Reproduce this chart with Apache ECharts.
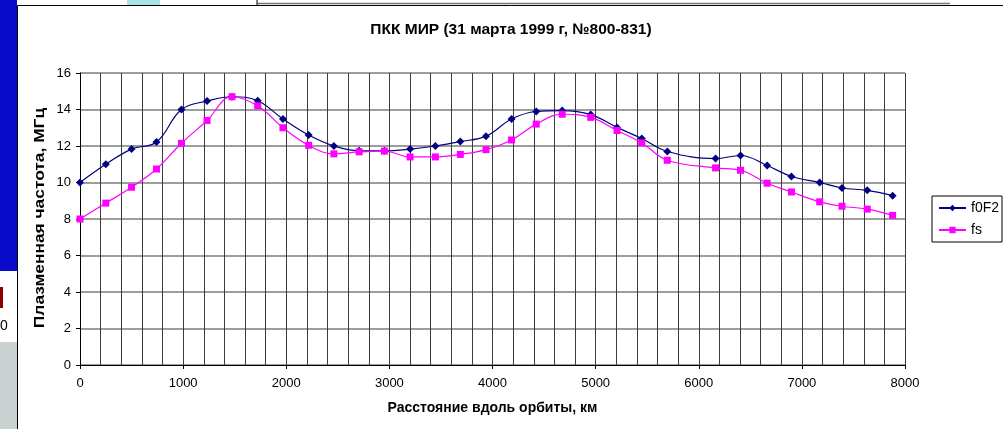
<!DOCTYPE html>
<html>
<head>
<meta charset="utf-8">
<script src="https://cdn.jsdelivr.net/npm/echarts@6/dist/echarts.min.js"></script>
<style>
  html, body { margin: 0; padding: 0; background: #ffffff; }
  #chart { width: 1003px; height: 429px; }
</style>
</head>
<body>
<div id="chart"></div>
<script>
// Distance along the orbit, km (sessions №800-831)
const distanceKm = [0, 250, 500, 742, 984, 1232, 1474, 1723, 1968, 2217, 2462, 2707, 2952, 3201, 3446, 3688,
                    3937, 4185, 4424, 4676, 4953, 5208, 5447, 5695, 6163, 6405, 6663, 6899, 7173, 7389, 7634, 7880];
// Critical frequency of the F2 layer, MHz
const f0F2 = [10.0, 11.0, 11.83, 12.22, 14.0, 14.46, 14.7, 14.48, 13.48, 12.6, 12.0, 11.74, 11.74, 11.83, 12.0, 12.24,
              12.54, 13.48, 13.89, 13.94, 13.72, 13.02, 12.41, 11.7, 11.31, 11.48, 10.93, 10.33, 10.0, 9.7, 9.57, 9.28];
// Local plasma frequency at the station, MHz
const fs = [8.0, 8.87, 9.74, 10.74, 12.15, 13.4, 14.7, 14.2, 13.0, 12.04, 11.57, 11.68, 11.72, 11.4, 11.4, 11.54,
            11.8, 12.33, 13.2, 13.74, 13.57, 12.85, 12.17, 11.22, 10.8, 10.67, 9.96, 9.48, 8.94, 8.7, 8.54, 8.2];

const seriesNames = ['f0F2', 'fs'];
const titleText = 'ПКК МИР (31 марта 1999 г, №800-831)';
const xTitle = 'Расстояние вдоль орбиты, км';
const yTitle = 'Плазменная частота, МГц';

const FONT = '"Liberation Sans", Arial, sans-serif';
const pairs = ys => distanceKm.map((x, i) => [x, ys[i]]);

const chart = echarts.init(document.getElementById('chart'), null, { renderer: 'canvas' });

chart.setOption({
  animation: false,
  backgroundColor: '#ffffff',
  textStyle: { fontFamily: FONT, color: '#000' },
  grid: { left: 80, right: 98, top: 73, bottom: 64, containLabel: false },
  legend: {
    orient: 'vertical',
    left: 932,
    top: 196,
    data: seriesNames,
    borderColor: '#000',
    borderWidth: 1,
    borderRadius: 0,
    padding: [5, 3, 5, 6],
    itemWidth: 27,
    itemHeight: 8,
    itemGap: 8,
    textStyle: { fontFamily: FONT, fontSize: 14, color: '#000' }
  },
  xAxis: {
    type: 'value',
    min: 0,
    max: 8000,
    interval: 1000,
    name: xTitle,
    nameLocation: 'middle',
    nameGap: 36,
    nameTextStyle: { fontFamily: FONT, fontSize: 14, fontWeight: 'bold', color: '#000' },
    axisLine: { show: true, onZero: false, lineStyle: { color: '#000', width: 1 } },
    axisTick: { show: true, inside: false, length: 4, lineStyle: { color: '#000' } },
    axisLabel: { fontFamily: FONT, fontSize: 13, color: '#000', margin: 12, formatter: v => String(v) },
    splitLine: { show: true, lineStyle: { color: '#3c3c3c', width: 1 } },
    minorTick: { show: false, splitNumber: 5 },
    minorSplitLine: { show: true, lineStyle: { color: '#3c3c3c', width: 1 } }
  },
  yAxis: {
    type: 'value',
    min: 0,
    max: 16,
    interval: 2,
    axisLine: { show: true, lineStyle: { color: '#000', width: 1 } },
    axisTick: { show: true, inside: false, length: 4, lineStyle: { color: '#000' } },
    axisLabel: { fontFamily: FONT, fontSize: 13, color: '#000', margin: 9 },
    splitLine: { show: true, lineStyle: { color: '#7d7d7d', width: 1.6 } }
  },
  series: [
    {
      name: seriesNames[0],
      type: 'line',
      data: pairs(f0F2),
      smooth: 0.4,
      symbol: 'diamond',
      symbolSize: 8,
      showSymbol: true,
      color: '#000080',
      lineStyle: { color: '#000080', width: 1.2 },
      itemStyle: { color: '#000080' },
      z: 3
    },
    {
      name: seriesNames[1],
      type: 'line',
      data: pairs(fs),
      smooth: 0.4,
      symbol: 'rect',
      symbolSize: 7,
      showSymbol: true,
      color: '#ff00ff',
      lineStyle: { color: '#ff00ff', width: 1.2 },
      itemStyle: { color: '#ff00ff' },
      z: 4
    }
  ],
  graphic: [
    // surrounding window pieces at the left and top edges
    { type: 'rect', shape: { x: 0, y: 0, width: 17, height: 271 }, style: { fill: '#0a0acb' }, silent: true },
    { type: 'rect', shape: { x: 0, y: 342, width: 17, height: 87 }, style: { fill: '#c9d1d1' }, silent: true },
    { type: 'rect', shape: { x: 0, y: 287, width: 3, height: 21 }, style: { fill: '#8b0000' }, silent: true },
    { type: 'text', x: 0, y: 319, style: { text: '0', font: '14px ' + FONT, fill: '#000' }, silent: true },
    { type: 'rect', shape: { x: 127, y: 0, width: 33, height: 5 }, style: { fill: '#a9e3ea' }, silent: true },
    { type: 'line', shape: { x1: 257, y1: 3.5, x2: 950, y2: 3.5 }, style: { stroke: '#777', lineWidth: 1.5 }, silent: true },
    { type: 'line', shape: { x1: 257, y1: 0, x2: 257, y2: 5 }, style: { stroke: '#000', lineWidth: 1 }, silent: true },
    // chart area frame
    { type: 'line', shape: { x1: 17.5, y1: 5.5, x2: 1003, y2: 5.5 }, style: { stroke: '#000', lineWidth: 1 }, silent: true },
    { type: 'line', shape: { x1: 17.5, y1: 5.5, x2: 17.5, y2: 429 }, style: { stroke: '#000', lineWidth: 1 }, silent: true },
    // chart title
    {
      type: 'text',
      x: 511,
      y: 22,
      style: { text: titleText, font: 'bold 15.5px ' + FONT, fill: '#000', textAlign: 'center' },
      silent: true
    },
    // vertical axis title, stretched along its length
    {
      type: 'text',
      x: 40,
      y: 218,
      rotation: Math.PI / 2,
      scaleX: 1.24,
      style: {
        text: yTitle,
        font: 'bold 14px ' + FONT,
        fill: '#000',
        textAlign: 'center',
        textVerticalAlign: 'middle'
      },
      silent: true
    }
  ]
});
</script>
</body>
</html>
